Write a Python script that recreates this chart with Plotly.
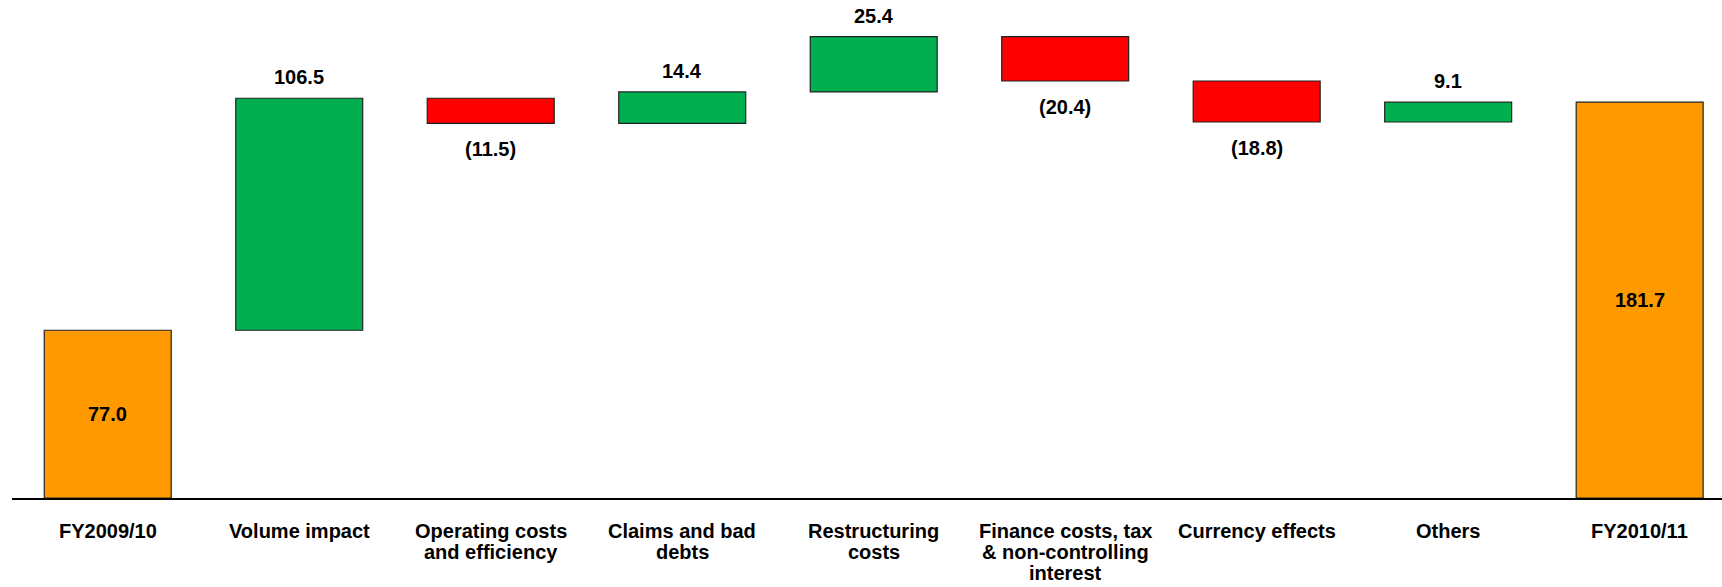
import plotly.graph_objects as go

categories = ["FY2009/10", "Volume impact", "Operating costs\nand efficiency",
              "Claims and bad\ndebts", "Restructuring\ncosts",
              "Finance costs, tax\n& non-controlling\ninterest",
              "Currency effects", "Others", "FY2010/11"]
values = [77.0, 106.5, -11.5, 14.4, 25.4, -20.4, -18.8, 9.1, 181.7]
measures = ["absolute", "relative", "relative", "relative", "relative",
            "relative", "relative", "relative", "total"]

FONT = "Liberation Sans, Arial, sans-serif"
FS = 20

def fmt(v):
    return f"({abs(v):.1f})" if v < 0 else f"{v:.1f}"

xs = list(range(len(categories)))

fig = go.Figure(go.Waterfall(
    x=xs,
    y=values,
    measure=measures,
    increasing=dict(marker=dict(color="#00B050", line=dict(color="#222222", width=1.2))),
    decreasing=dict(marker=dict(color="#FF0000", line=dict(color="#222222", width=1.2))),
    totals=dict(marker=dict(color="#FF9900", line=dict(color="#222222", width=1.2))),
    connector=dict(visible=False),
    hoverinfo="skip",
))

annotations = []
cum = 0.0
for i, (v, m) in enumerate(zip(values, measures)):
    if m == "absolute":
        cum = v
        annotations.append(dict(x=i, y=v / 2, text=fmt(v), yanchor="middle"))
    elif m == "total":
        annotations.append(dict(x=i, y=cum / 2, text=fmt(cum), yanchor="middle"))
    else:
        cum += v
        if v >= 0:
            annotations.append(dict(x=i, y=cum, text=fmt(v), yanchor="middle", yshift=21))
        else:
            annotations.append(dict(x=i, y=cum, text=fmt(v), yanchor="middle", yshift=-26))

# category labels (one annotation per line for tight line spacing)
for i, cat in enumerate(categories):
    for k, line in enumerate(cat.split("\n")):
        annotations.append(dict(x=i, y=0, text=line, yanchor="middle",
                                yshift=-33 - 20.8 * k))

for a in annotations:
    a["text"] = f"<b>{a['text']}</b>"
    a["font"] = dict(family=FONT, size=FS, color="#000000")
    a["xref"] = "x"
    a["yref"] = "y"
    a["showarrow"] = False

fig.update_layout(
    width=1722, height=587,
    margin=dict(l=12, r=0, t=10, b=89, autoexpand=False),
    paper_bgcolor="white", plot_bgcolor="white",
    showlegend=False,
    hovermode=False,
    waterfallgap=0.337,
    annotations=annotations,
    font=dict(family=FONT, size=FS, color="#000000"),
    xaxis=dict(
        range=[-0.5, 8.43], showline=True, linecolor="black", linewidth=2,
        showticklabels=False, ticks="", showgrid=False, zeroline=False,
        automargin=False,
    ),
    yaxis=dict(range=[0, 224], visible=False, showgrid=False, zeroline=False,
               automargin=False),
)

# remove the page body's default 8px margin so the figure fills the window
fig.write_html("out.html",
               config={"displayModeBar": False, "staticPlot": True},
               post_script="document.body.style.margin='0';document.body.style.overflow='hidden';")
